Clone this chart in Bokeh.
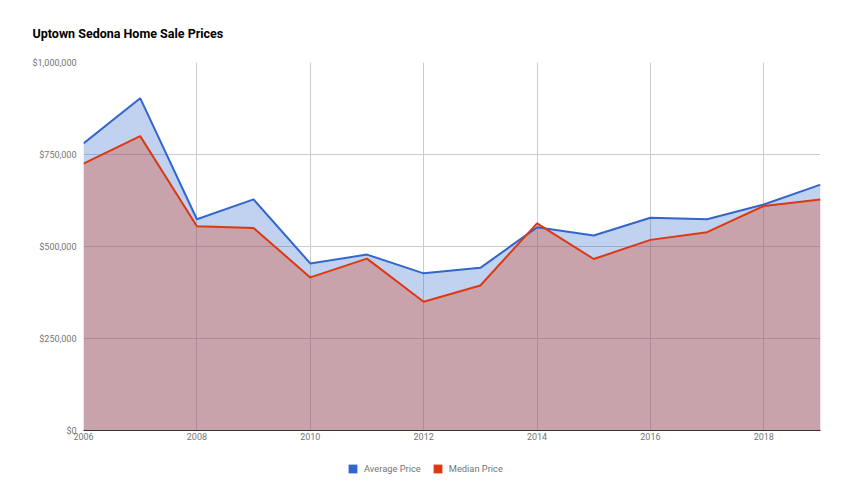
from bokeh.plotting import figure
from bokeh.layouts import column
from bokeh.models import Legend, LegendItem, NumeralTickFormatter, FixedTicker, Range1d, ColumnDataSource
from bokeh.embed import file_html
from bokeh.resources import INLINE

years = [2006, 2007, 2008, 2009, 2010, 2011, 2012, 2013, 2014, 2015, 2016, 2017, 2018, 2019]
average_price = [780000, 903000, 574000, 628000, 454000, 478000, 427000, 442000, 552000, 530000, 578000, 574000, 614000, 668000]
median_price = [725000, 800000, 555000, 550000, 416000, 467000, 350000, 394000, 563000, 466000, 518000, 539000, 610000, 628000]
x_ticks = [2006, 2008, 2010, 2012, 2014, 2016, 2018]
y_ticks = [0, 250000, 500000, 750000, 1000000]
series_names = ["Average Price", "Median Price"]

BLUE = "#3366cc"
RED = "#dc3912"
FONT = "Roboto"

src = ColumnDataSource(dict(x=years, avg=average_price, med=median_price, zero=[0] * len(years)))

p = figure(width=834, height=454, output_backend="svg", toolbar_location=None,
           x_range=Range1d(2006, 2019), y_range=Range1d(0, 1000000),
           min_border_left=83, min_border_right=14, min_border_top=62, min_border_bottom=24)

p.title.text = "Uptown Sedona Home Sale Prices"
p.title.text_font = FONT
p.title.text_font_size = "12.5px"
p.title.text_font_style = "bold"
p.title.text_color = "#000000"
p.title.align = "left"
p.title.offset = -51
p.title.standoff = 44

p.outline_line_color = None
p.background_fill_color = "white"

p.varea(x="x", y1="zero", y2="avg", source=src, fill_color=BLUE, fill_alpha=0.3)
p.varea(x="x", y1="zero", y2="med", source=src, fill_color=RED, fill_alpha=0.3)
p.line(x="x", y="avg", source=src, line_color=BLUE, line_width=2)
p.line(x="x", y="med", source=src, line_color=RED, line_width=2)

p.xaxis.ticker = FixedTicker(ticks=x_ticks)
p.yaxis.ticker = FixedTicker(ticks=y_ticks)
p.yaxis.formatter = NumeralTickFormatter(format="$0,0")
for ax in (p.xaxis, p.yaxis):
    ax.major_tick_line_color = None
    ax.minor_tick_line_color = None
    ax.major_tick_out = 0
    ax.major_tick_in = 0
    ax.minor_tick_out = 0
    ax.minor_tick_in = 0
    ax.major_label_text_font = FONT
    ax.major_label_text_font_size = "9px"
    ax.major_label_text_color = "#757575"
p.yaxis.axis_line_color = None
p.yaxis.major_label_standoff = 7
p.xaxis.axis_line_color = "#333333"
p.xaxis.axis_line_width = 1
p.xaxis.major_label_standoff = 2

p.xgrid.grid_line_color = "#cccccc"
p.ygrid.grid_line_color = "#cccccc"

# legend strip below the chart (its frame is aligned with the chart's frame)
lg = figure(width=834, height=30, output_backend="svg", toolbar_location=None,
            x_range=Range1d(0, 1), y_range=Range1d(0, 1),
            x_axis_location=None, y_axis_location=None,
            min_border_left=0, min_border_right=0, min_border_top=0, min_border_bottom=0)
lg.grid.visible = False
lg.outline_line_color = None
swatch_src = ColumnDataSource(dict(l=[5], r=[6], t=[5], b=[4]))
s1 = lg.quad(left="l", right="r", top="t", bottom="b", source=swatch_src, fill_color=BLUE, line_color=None)
s2 = lg.quad(left="l", right="r", top="t", bottom="b", source=swatch_src, fill_color=RED, line_color=None)

legend = Legend(items=[LegendItem(label=series_names[0], renderers=[s1]),
                       LegendItem(label=series_names[1], renderers=[s2])],
                orientation="horizontal", location=(264, 10), border_line_color=None,
                background_fill_alpha=0, padding=0, margin=0, spacing=11,
                glyph_width=11, glyph_height=11, label_height=9, label_standoff=6,
                label_text_font=FONT, label_text_font_size="9.3px", label_text_color="#757575")
lg.add_layout(legend)

layout = column(p, lg, spacing=0)
open("out.html", "w").write(file_html(layout, INLINE))
